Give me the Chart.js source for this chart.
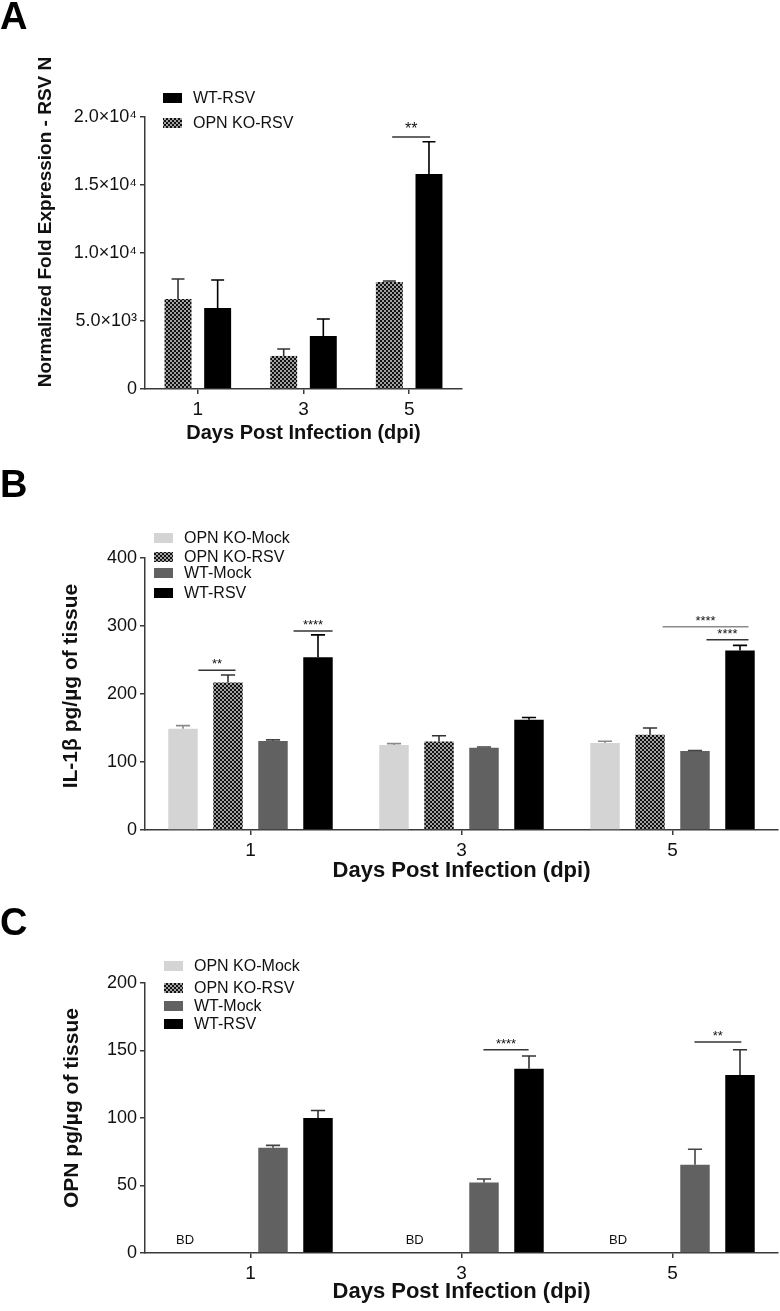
<!DOCTYPE html>
<html>
<head>
<meta charset="utf-8">
<script src="https://cdn.jsdelivr.net/npm/chart.js@4.4.1/dist/chart.umd.min.js"></script>
<style>
    body { margin: 0; background: #fff; width: 780px; height: 1311px; position: relative; overflow: hidden; }
    canvas { position: absolute; left: 0; }
    .panel { position: absolute; left: 0; font-family: "Liberation Sans", Arial, sans-serif; font-weight: bold; font-size: 38px; line-height: 1; color: #000; z-index: 2; }
</style>
</head>
<body>
<canvas id="chartA" width="780" height="455" style="top:0px"></canvas>
<canvas id="chartB" width="780" height="438" style="top:455px"></canvas>
<canvas id="chartC" width="780" height="418" style="top:893px"></canvas>
<div class="panel" style="top:-3px">A</div>
<div class="panel" style="top:465px">B</div>
<div class="panel" style="top:903px">C</div>

<script>
// ---- data ----
const days = ['1', '3', '5'];

// Panel A: normalized fold expression (mean, SEM)
const aKoRsv = [6620, 2430, 7870];
const aKoRsvErr = [1470, 510, 70];
const aWtRsv = [5960, 3900, 15810];
const aWtRsvErr = [2060, 1250, 2370];
const aTickValues = [0, 5000, 10000, 15000, 20000];
const aTickLabels = ['0', '5.0×10³', '1.0×10⁴', '1.5×10⁴', '2.0×10⁴'];
const aSig = [{ x1: 1.839, x2: 2.199, y: 18530, text: '**' }];

// Panel B: IL-1b pg/ug of tissue
const bKoMock = [149, 125, 128];
const bKoMockErr = [4.5, 2, 2.5];
const bKoRsv = [217, 130, 140];
const bKoRsvErr = [11, 8.5, 10];
const bWtMock = [131, 121, 116];
const bWtMockErr = [1.5, 1, 1];
const bWtRsv = [254, 162, 264];
const bWtRsvErr = [33, 3.5, 7.5];
const bSig = [
    { x1: -0.247, x2: -0.071, y: 235, text: '**' },
    { x1: 0.204, x2: 0.389, y: 292.5, text: '****' },
    { x1: 1.953, x2: 2.36, y: 298.8, text: '****', gray: true },
    { x1: 2.161, x2: 2.36, y: 279.6, text: '****' }
];

// Panel C: OPN pg/ug of tissue (KO groups below detection)
const cKoMock = [null, null, null];
const cKoRsv = [null, null, null];
const cWtMock = [78, 52.3, 65.4];
const cWtMockErr = [1.7, 2.5, 11.4];
const cWtRsv = [100, 136.5, 131.8];
const cWtRsvErr = [5.6, 9.4, 18.8];
const cSig = [
    { x1: 1.104, x2: 1.318, y: 150.6, text: '****' },
    { x1: 2.104, x2: 2.326, y: 156.3, text: '**' }
];
const cBelowDetect = [
    { x: -0.31, y: 9, text: 'BD' },
    { x: 0.778, y: 9, text: 'BD' },
    { x: 1.742, y: 9, text: 'BD' }
];

// ---- drawing ----
const FONT = '"Liberation Sans", Arial, sans-serif';
const AXIS = '#3a3a3a';

function checkerPattern(canvas) {
    const tile = document.createElement('canvas');
    tile.width = 4;
    tile.height = 4;
    const t = tile.getContext('2d');
    t.fillStyle = '#a2a2a2';
    t.fillRect(0, 0, 4, 4);
    t.fillStyle = '#111';
    t.fillRect(0, 0, 2, 2);
    t.fillRect(2, 2, 2, 2);
    return canvas.getContext('2d').createPattern(tile, 'repeat');
}

// upper whisker with cap on each bar
const errorBars = {
    id: 'errorBars',
    afterDatasetsDraw(chart) {
        const ctx = chart.ctx;
        const yScale = chart.scales.y;
        chart.data.datasets.forEach((ds, i) => {
            if (!ds.errors) return;
            chart.getDatasetMeta(i).data.forEach((bar, j) => {
                const v = ds.data[j];
                const e = ds.errors[j];
                if (v == null || e == null) return;
                const yTop = yScale.getPixelForValue(v + e);
                const half = bar.width * 0.24;
                ctx.save();
                ctx.strokeStyle = ds.errColor;
                ctx.lineWidth = 1.6;
                ctx.beginPath();
                ctx.moveTo(bar.x, bar.y);
                ctx.lineTo(bar.x, yTop);
                ctx.moveTo(bar.x - half, yTop);
                ctx.lineTo(bar.x + half, yTop);
                ctx.stroke();
                ctx.restore();
            });
        });
    }
};

// legend boxes, rotated y title, significance bars, BD labels
function annotations(cfg) {
    return {
        id: 'annotations',
        afterDraw(chart) {
            const ctx = chart.ctx;
            const xs = chart.scales.x;
            const ys = chart.scales.y;
            ctx.save();

            // y axis title
            ctx.translate(cfg.yTitle.x, cfg.yTitle.y);
            ctx.rotate(-Math.PI / 2);
            ctx.font = `bold ${cfg.yTitle.size}px ${FONT}`;
            ctx.fillStyle = '#111';
            ctx.textAlign = 'center';
            ctx.textBaseline = 'middle';
            ctx.fillText(cfg.yTitle.text, 0, 0);
            ctx.setTransform(1, 0, 0, 1, 0, 0);

            // legend
            ctx.font = `16px ${FONT}`;
            ctx.textAlign = 'left';
            cfg.legend.rows.forEach(r => {
                const ds = chart.data.datasets[r.index];
                ctx.fillStyle = ds.backgroundColor;
                ctx.fillRect(cfg.legend.x, r.y - 5, 19, 10);
                ctx.fillStyle = '#111';
                ctx.fillText(ds.label, cfg.legend.textX, r.y + 1);
            });

            // significance brackets
            (cfg.sig || []).forEach(s => {
                const x1 = xs.getPixelForValue(s.x1);
                const x2 = xs.getPixelForValue(s.x2);
                const y = ys.getPixelForValue(s.y);
                ctx.strokeStyle = s.gray ? '#8a8a8a' : '#333';
                ctx.lineWidth = 1.5;
                ctx.beginPath();
                ctx.moveTo(x1, y);
                ctx.lineTo(x2, y);
                ctx.stroke();
                ctx.fillStyle = '#111';
                ctx.font = `${cfg.sigSize}px ${FONT}`;
                ctx.textAlign = 'center';
                ctx.textBaseline = 'alphabetic';
                ctx.fillText(s.text, (x1 + x2) / 2, y - cfg.sigGap);
            });

            // below detection labels
            (cfg.bd || []).forEach(b => {
                ctx.fillStyle = '#111';
                ctx.font = `13px ${FONT}`;
                ctx.textAlign = 'center';
                ctx.textBaseline = 'middle';
                ctx.fillText(b.text, xs.getPixelForValue(b.x), ys.getPixelForValue(b.y));
            });
            ctx.restore();
        }
    };
}

function panelOptions(o) {
    return {
        responsive: false,
        animation: false,
        events: [],
        layout: { padding: { top: o.top, right: o.right, left: 0, bottom: 0 } },
        plugins: {
            legend: { display: false },
            tooltip: { enabled: false }
        },
        scales: {
            x: {
                offset: true,
                grid: { display: true, drawOnChartArea: false, offset: false, tickLength: 5, color: AXIS, lineWidth: 1.5 },
                border: { display: true, color: AXIS, width: 1.5 },
                ticks: { color: '#111', padding: 4, font: { family: FONT, size: 19 } },
                title: {
                    display: true,
                    text: 'Days Post Infection (dpi)',
                    color: '#111',
                    font: { family: FONT, size: o.xTitleSize, weight: 'bold' },
                    padding: { top: 0, bottom: o.xTitlePad }
                },
                afterFit: s => { s.height = o.xHeight; }
            },
            y: {
                min: 0,
                max: o.yMax,
                grid: { display: true, drawOnChartArea: false, tickLength: 5, color: AXIS, lineWidth: 1.5 },
                border: { display: true, color: AXIS, width: 1.5 },
                ticks: {
                    stepSize: o.yStep,
                    color: '#111',
                    padding: 3,
                    font: { family: FONT, size: o.yTickSize },
                    callback: o.yLabel || (v => v)
                },
                afterBuildTicks: o.yTicks ? s => { s.ticks = o.yTicks.map(v => ({ value: v })); } : undefined,
                afterFit: s => { s.width = 145; }
            }
        }
    };
}

// Panel A
const canvasA = document.getElementById('chartA');
const patA = checkerPattern(canvasA);
new Chart(canvasA.getContext('2d'), {
    type: 'bar',
    data: {
        labels: days,
        datasets: [
            { label: 'OPN KO-RSV', data: aKoRsv, errors: aKoRsvErr, errColor: '#333', backgroundColor: patA, categoryPercentage: 0.75, barPercentage: 0.68 },
            { label: 'WT-RSV', data: aWtRsv, errors: aWtRsvErr, errColor: '#000', backgroundColor: '#000', categoryPercentage: 0.75, barPercentage: 0.68 }
        ]
    },
    options: panelOptions({
        top: 117, right: 318, xHeight: 66, xTitleSize: 20, xTitlePad: 10,
        yMax: 20000, yStep: 5000, yTickSize: 18, yTicks: aTickValues,
        yLabel: v => aTickLabels[aTickValues.indexOf(v)]
    }),
    plugins: [errorBars, annotations({
        yTitle: { text: 'Normalized Fold Expression - RSV N', x: 46, y: 222, size: 19 },
        legend: { x: 163, textX: 193, rows: [{ index: 1, y: 98 }, { index: 0, y: 123 }] },
        sig: aSig, sigSize: 16, sigGap: 3
    })]
});

// Panel B
const canvasB = document.getElementById('chartB');
const patB = checkerPattern(canvasB);
const groupB = { categoryPercentage: 0.853, barPercentage: 0.655 };
new Chart(canvasB.getContext('2d'), {
    type: 'bar',
    data: {
        labels: days,
        datasets: [
            { label: 'OPN KO-Mock', data: bKoMock, errors: bKoMockErr, errColor: '#8a8a8a', backgroundColor: '#d4d4d4', ...groupB },
            { label: 'OPN KO-RSV', data: bKoRsv, errors: bKoRsvErr, errColor: '#333', backgroundColor: patB, ...groupB },
            { label: 'WT-Mock', data: bWtMock, errors: bWtMockErr, errColor: '#444', backgroundColor: '#616161', ...groupB },
            { label: 'WT-RSV', data: bWtRsv, errors: bWtRsvErr, errColor: '#000', backgroundColor: '#000', ...groupB }
        ]
    },
    options: panelOptions({
        top: 103, right: 2, xHeight: 63, xTitleSize: 22, xTitlePad: 9,
        yMax: 400, yStep: 100, yTickSize: 18
    }),
    plugins: [errorBars, annotations({
        yTitle: { text: 'IL-1β pg/µg of tissue', x: 71, y: 231, size: 21 },
        legend: { x: 154, textX: 184, rows: [{ index: 0, y: 83 }, { index: 1, y: 102 }, { index: 2, y: 118 }, { index: 3, y: 138 }] },
        sig: bSig, sigSize: 13, sigGap: 2
    })]
});

// Panel C
const canvasC = document.getElementById('chartC');
const patC = checkerPattern(canvasC);
new Chart(canvasC.getContext('2d'), {
    type: 'bar',
    data: {
        labels: days,
        datasets: [
            { label: 'OPN KO-Mock', data: cKoMock, backgroundColor: '#d4d4d4', ...groupB },
            { label: 'OPN KO-RSV', data: cKoRsv, backgroundColor: patC, ...groupB },
            { label: 'WT-Mock', data: cWtMock, errors: cWtMockErr, errColor: '#444', backgroundColor: '#616161', ...groupB },
            { label: 'WT-RSV', data: cWtRsv, errors: cWtRsvErr, errColor: '#333', backgroundColor: '#000', ...groupB }
        ]
    },
    options: panelOptions({
        top: 90, right: 2, xHeight: 58, xTitleSize: 22, xTitlePad: 6,
        yMax: 200, yStep: 50, yTickSize: 18
    }),
    plugins: [errorBars, annotations({
        yTitle: { text: 'OPN pg/µg of tissue', x: 72, y: 215, size: 21 },
        legend: { x: 164, textX: 194, rows: [{ index: 0, y: 73 }, { index: 1, y: 95 }, { index: 2, y: 113 }, { index: 3, y: 131 }] },
        sig: cSig, sigSize: 13, sigGap: 2,
        bd: cBelowDetect
    })]
});
</script>
</body>
</html>
